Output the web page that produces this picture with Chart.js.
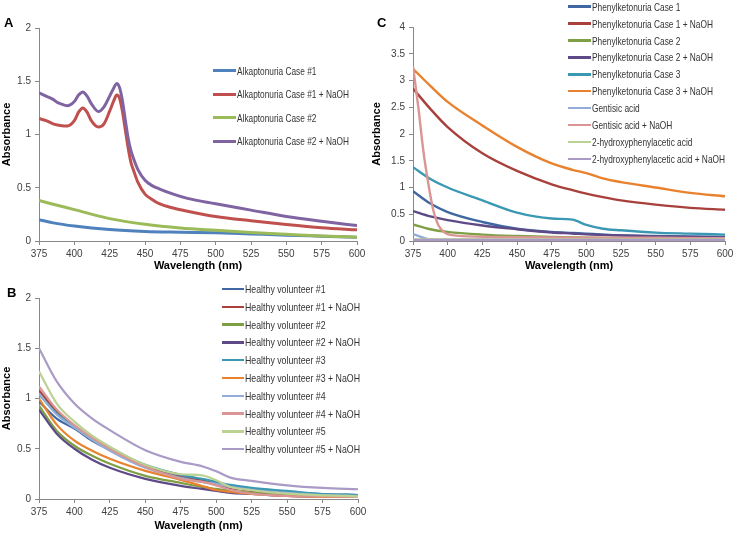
<!DOCTYPE html>
<html>
<head>
<meta charset="utf-8">
<script src="https://cdn.jsdelivr.net/npm/chart.js@4.4.0/dist/chart.umd.min.js"></script>
<style>
  body { margin: 0; background: #fff; width: 738px; height: 536px; position: relative; overflow: hidden;
         font-family: 'Liberation Sans', Arial, sans-serif; }
  canvas { position: absolute; }
  .panel-lbl { position: absolute; font-weight: bold; font-size: 13px; color: #000; }
  .leg { position: absolute; height: 12px; white-space: nowrap; }
  .leg i { position: absolute; left: 0; }
  .leg span { position: absolute; top: 0; line-height: 12px; font-size: 10.5px; color: #333;
              font-family: 'Liberation Sans Narrow', 'Arial Narrow', 'Liberation Sans', sans-serif;
              transform-origin: left center; }
</style>
</head>
<body>
<canvas id="chartA" width="370" height="275" style="left:0;top:0"></canvas>
<canvas id="chartB" width="370" height="261" style="left:0;top:275px"></canvas>
<canvas id="chartC" width="368" height="275" style="left:370px;top:0"></canvas>
<div class="panel-lbl" style="left:4px;top:15px">A</div>
<div class="panel-lbl" style="left:7px;top:285px">B</div>
<div class="panel-lbl" style="left:377px;top:15px">C</div>

<script>
// ---- Panel A: alkaptonuria ----
const WL_A_PEAK = [375,380,385,388,390,395,400,403,406,409,412,417,421,425,428,430,432,434,436,438,440,442,445,450,455,460,470,480,500,525,550,575,600];
const WL_A_SMOOTH = [375,385,400,425,450,475,500,525,550,575,600];
const ALK1 = [0.20,0.17,0.14,0.107,0.09,0.083,0.077,0.066,0.055,0.045,0.035];
const ALK1_NAOH = [1.15,1.13,1.10,1.09,1.085,1.08,1.13,1.21,1.25,1.21,1.13,1.07,1.10,1.22,1.32,1.37,1.34,1.22,1.05,0.88,0.74,0.66,0.55,0.44,0.39,0.35,0.31,0.28,0.23,0.19,0.155,0.125,0.105];
const ALK2 = [0.38,0.345,0.295,0.21,0.157,0.122,0.10,0.08,0.063,0.047,0.035];
const ALK2_NAOH = [1.39,1.36,1.33,1.30,1.29,1.27,1.31,1.37,1.40,1.36,1.29,1.215,1.26,1.36,1.44,1.48,1.44,1.32,1.14,0.97,0.85,0.77,0.67,0.57,0.52,0.49,0.44,0.40,0.35,0.29,0.23,0.185,0.145];
const LABELS_A = ['Alkaptonuria Case #1','Alkaptonuria Case #1 + NaOH','Alkaptonuria Case #2','Alkaptonuria Case #2 + NaOH'];

// ---- Panel B: healthy volunteers ----
const WL_B = [375,387.5,400,412.5,425,450,475,490,500,510,525,550,575,600];
const HV1 = [0.97,0.80,0.70,0.58,0.49,0.33,0.23,0.19,0.16,0.13,0.10,0.07,0.05,0.04];
const HV1_NAOH = [1.08,0.87,0.72,0.61,0.51,0.33,0.22,0.18,0.15,0.11,0.08,0.05,0.035,0.03];
const HV2 = [0.93,0.68,0.53,0.43,0.35,0.23,0.16,0.12,0.10,0.08,0.06,0.04,0.03,0.03];
const HV2_NAOH = [0.89,0.65,0.50,0.39,0.31,0.20,0.13,0.10,0.08,0.06,0.05,0.03,0.02,0.02];
const HV3 = [1.04,0.85,0.72,0.60,0.50,0.34,0.24,0.20,0.17,0.14,0.11,0.08,0.05,0.04];
const HV3_NAOH = [1.00,0.74,0.58,0.48,0.40,0.28,0.19,0.13,0.09,0.07,0.05,0.03,0.02,0.02];
const HV4 = [1.05,0.84,0.71,0.59,0.48,0.31,0.21,0.17,0.15,0.12,0.09,0.06,0.04,0.03];
const HV4_NAOH = [1.12,0.89,0.735,0.61,0.50,0.32,0.20,0.17,0.136,0.09,0.053,0.03,0.025,0.02];
const HV5 = [1.27,0.95,0.77,0.63,0.52,0.34,0.246,0.236,0.186,0.12,0.087,0.053,0.037,0.027];
const HV5_NAOH = [1.50,1.17,0.95,0.80,0.685,0.486,0.37,0.326,0.276,0.213,0.18,0.136,0.11,0.097];
const LABELS_B = ['Healthy volunteer #1','Healthy volunteer #1 + NaOH','Healthy volunteer #2','Healthy volunteer #2 + NaOH',
  'Healthy volunteer #3','Healthy volunteer #3 + NaOH','Healthy volunteer #4','Healthy volunteer #4 + NaOH',
  'Healthy volunteer #5','Healthy volunteer #5 + NaOH'];

// ---- Panel C: phenylketonuria + reference acids ----
const WL_C = [375,387.5,400,425,450,475,490,500,512,525,550,575,600];
const WL_GENT = [375,378.8,382.4,386,389.6,393.2,398,403,425,450,500,550,600];
const PKU1 = [0.93,0.70,0.54,0.355,0.23,0.17,0.15,0.137,0.12,0.106,0.093,0.087,0.075];
const PKU1_NAOH = [2.85,2.47,2.13,1.64,1.31,1.06,0.95,0.885,0.82,0.76,0.68,0.62,0.585];
const PKU2 = [0.31,0.22,0.17,0.12,0.093,0.075,0.068,0.062,0.058,0.055,0.05,0.045,0.04];
const PKU2_NAOH = [0.56,0.46,0.39,0.29,0.22,0.16,0.14,0.125,0.115,0.106,0.087,0.075,0.06];
const PKU3 = [1.38,1.16,1.0,0.76,0.53,0.42,0.40,0.30,0.23,0.20,0.156,0.137,0.12];
const PKU3_NAOH = [3.22,2.90,2.60,2.16,1.76,1.45,1.33,1.27,1.17,1.10,1.0,0.90,0.835];
const GENT = [0.13,0.03,0.022,0.02,0.02,0.02,0.02,0.02,0.02,0.02,0.02,0.02,0.02];
const GENT_NAOH = [3.26,2.51,1.70,1.08,0.58,0.30,0.155,0.11,0.08,0.07,0.06,0.06,0.05];
const HPA = [0.03,0.03,0.03,0.03,0.03,0.03,0.03,0.03,0.03,0.03,0.03,0.03,0.03];
const HPA_NAOH = [0.02,0.02,0.02,0.02,0.02,0.02,0.02,0.02,0.02,0.02,0.02,0.02,0.02];
const LABELS_C = ['Phenylketonuria Case 1','Phenylketonuria Case 1 + NaOH','Phenylketonuria Case 2','Phenylketonuria Case 2 + NaOH',
  'Phenylketonuria Case 3','Phenylketonuria Case 3 + NaOH','Gentisic acid','Gentisic acid + NaOH',
  '2-hydroxyphenylacetic acid','2-hydroxyphenylacetic acid + NaOH'];

const COLORS_A = ['#4F81BD','#C0504D','#9BBB59','#8064A2'];
const COLORS_10 = ['#3F68A3','#A8403C','#7F9F45','#5E4A86','#3A98B2','#E8822E','#92ADD5','#D99694','#BCD292','#A99BC6'];

function pairs(xs, ys) { return ys.map((y, i) => ({ x: xs[i], y })); }

function mkSeries(xsList, ysList, labels, colors, width) {
  const n = ysList.length;
  return ysList.map((ys, i) => ({
    label: labels[i],
    data: pairs(xsList[i], ys),
    borderColor: colors[i],
    backgroundColor: colors[i],
    borderWidth: width,
    pointRadius: 0,
    cubicInterpolationMode: 'monotone',
    order: n - i,   // later series painted on top, like the spreadsheet
  }));
}

const AXIS = '#888888';
const TICK_FONT = { family: "'Liberation Sans', Arial, sans-serif", size: 10 };
const TITLE_FONT = { family: "'Liberation Sans', Arial, sans-serif", size: 11, weight: 'bold' };

// plot area is pinned with padding + fixed axis sizes
function mkPanel(id, datasets, box, yMax) {
  return new Chart(document.getElementById(id), {
    type: 'line',
    data: { datasets },
    options: {
      responsive: false,
      animation: false,
      layout: { padding: { top: box.top, right: box.right, left: 0, bottom: 0 } },
      plugins: { legend: { display: false }, tooltip: { enabled: false } },
      scales: {
        x: {
          type: 'linear', min: 375, max: 600,
          ticks: { stepSize: 25, color: '#404040', font: TICK_FONT, padding: 3, maxRotation: 0 },
          grid: { drawOnChartArea: false, drawTicks: true, tickLength: 4, color: AXIS },
          border: { color: AXIS, width: 1 },
          title: { display: true, text: 'Wavelength (nm)', color: '#000', font: TITLE_FONT, padding: { top: 0, bottom: box.xTitlePad } },
          afterFit: s => { s.height = box.xH; },
        },
        y: {
          min: 0, max: yMax,
          ticks: { stepSize: 0.5, color: '#404040', font: TICK_FONT, padding: 4, callback: v => String(+v.toFixed(2)) },
          grid: { drawOnChartArea: false, drawTicks: true, tickLength: 4, color: AXIS },
          border: { color: AXIS, width: 1 },
          title: { display: true, text: 'Absorbance', color: '#000', font: TITLE_FONT, padding: { top: 0, bottom: 0 } },
          afterFit: s => { s.width = box.yW; },
        },
      },
    },
  });
}

mkPanel('chartA',
  mkSeries([WL_A_SMOOTH, WL_A_PEAK, WL_A_SMOOTH, WL_A_PEAK], [ALK1, ALK1_NAOH, ALK2, ALK2_NAOH], LABELS_A, COLORS_A, 3),
  { top: 28, right: 13, yW: 39, xH: 34, xTitlePad: 2 }, 2);

mkPanel('chartB',
  mkSeries(Array(10).fill(WL_B), [HV1, HV1_NAOH, HV2, HV2_NAOH, HV3, HV3_NAOH, HV4, HV4_NAOH, HV5, HV5_NAOH], LABELS_B, COLORS_10, 2.2),
  { top: 23, right: 12, yW: 39, xH: 37, xTitlePad: 3 }, 2);

mkPanel('chartC',
  mkSeries([WL_C, WL_C, WL_C, WL_C, WL_C, WL_C, WL_C, WL_GENT, WL_C, WL_C],
    [PKU1, PKU1_NAOH, PKU2, PKU2_NAOH, PKU3, PKU3_NAOH, GENT, GENT_NAOH, HPA, HPA_NAOH], LABELS_C, COLORS_10, 2.4),
  { top: 27, right: 13, yW: 43, xH: 34, xTitlePad: 2 }, 4);

// ---- legends (html, placed like the original) ----
function mkLegend(labels, colors, x, y0, dy, lineW, thick) {
  labels.forEach((txt, i) => {
    const d = document.createElement('div');
    d.className = 'leg';
    d.style.left = x + 'px';
    d.style.top = (y0 + i * dy - 6) + 'px';
    const ln = document.createElement('i');
    ln.style.width = lineW + 'px';
    ln.style.background = colors[i];
    ln.style.height = thick + 'px';
    ln.style.top = (6 - thick / 2) + 'px';
    const sp = document.createElement('span');
    sp.textContent = txt;
    sp.style.left = (lineW + 1) + 'px';
    d.appendChild(ln);
    d.appendChild(sp);
    document.body.appendChild(d);
  });
}
function fitLegends(labels, targetW) {
  // squeeze texts so the longest entry matches the original width
  const spans = [...document.querySelectorAll('.leg span')].filter(s => labels.includes(s.textContent));
  const longest = spans.reduce((a, b) => (b.getBoundingClientRect().width > a.getBoundingClientRect().width ? b : a));
  const k = Math.min(1, targetW / longest.getBoundingClientRect().width);
  spans.forEach(s => { s.style.transform = 'scaleX(' + k + ')'; });
}

mkLegend(LABELS_A, COLORS_A, 213, 70.5, 23.5, 23, 3);
mkLegend(LABELS_B, COLORS_10, 222, 289, 17.8, 22, 2.5);
mkLegend(LABELS_C, COLORS_10, 568, 6.7, 16.9, 23, 2.5);
fitLegends(LABELS_A, 112);
fitLegends(LABELS_B, 115);
fitLegends(LABELS_C, 133);
</script>
</body>
</html>
